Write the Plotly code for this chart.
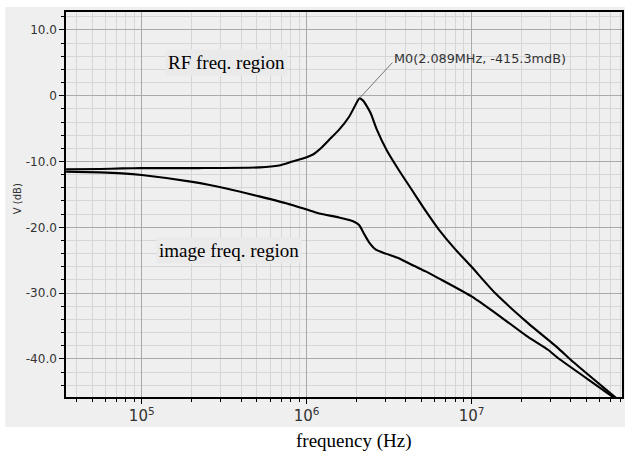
import math
import plotly.graph_objects as go

# ---- data ----
rf_freq = [3.48e4, 5.6e4, 7.6e4, 1.0e5, 2.2e5, 5.2e5, 6.8e5, 8.2e5, 1.0e6, 1.1e6,
           1.22e6, 1.37e6, 1.57e6, 1.81e6, 1.94e6, 2.02e6, 2.089e6, 2.2e6, 2.33e6,
           2.45e6, 2.67e6, 3.06e6, 3.62e6, 4.34e6, 5.27e6, 6.32e6, 8.0e6, 1.0e7,
           1.39e7, 2.21e7, 3.36e7, 4.02e7, 7.41e7, 7.9e7]
rf_db = [-11.2, -11.15, -11.05, -11.0, -11.0, -10.9, -10.6, -10.0, -9.35, -8.9,
         -8.0, -6.7, -5.2, -3.2, -1.8, -0.95, -0.415, -0.75, -1.7,
         -2.7, -5.2, -8.3, -11.3, -14.3, -17.5, -20.3, -23.4, -26.0,
         -30.0, -34.6, -38.4, -40.2, -45.8, -46.4]

img_freq = [3.48e4, 5.6e4, 7.6e4, 1.0e5, 2.03e5, 3.26e5, 5.16e5, 8.17e5, 1.0e6,
            1.19e6, 1.57e6, 1.81e6, 1.94e6, 2.08e6, 2.22e6, 2.38e6, 2.63e6, 3.02e6,
            3.62e6, 4.34e6, 5.27e6, 6.32e6, 1.0e7, 1.39e7, 2.21e7, 2.92e7, 3.36e7,
            7.21e7, 7.9e7]
img_db = [-11.55, -11.65, -11.8, -12.05, -13.1, -14.1, -15.3, -16.6, -17.3,
          -17.9, -18.5, -18.9, -19.15, -19.65, -20.9, -22.2, -23.4, -24.0,
          -24.7, -25.7, -26.7, -27.75, -30.5, -33.0, -36.7, -38.65, -39.9,
          -45.8, -46.6]

marker_freq = 2.089e6
marker_db = -0.4153

y_ticks = [10, 0, -10, -20, -30, -40]
y_ticklabels = ["10.0", "0", "-10.0", "-20.0", "-30.0", "-40.0"]

# ---- figure ----
W, H = 627, 458
ml, mr, mt, mb = 66, 3, 12, 61
pw, ph = W - ml - mr, H - mt - mb

def px_x(p):
    return (p - ml) / pw

def px_y(p):
    return (H - mb - p) / ph

fig = go.Figure()
line_style = dict(color="black", width=2.1, shape="spline", smoothing=0.6)
fig.add_trace(go.Scatter(x=rf_freq, y=rf_db, mode="lines", line=line_style,
                         name="RF", showlegend=False))
fig.add_trace(go.Scatter(x=img_freq, y=img_db, mode="lines", line=line_style,
                         name="image", showlegend=False))

tickfont = dict(family="DejaVu Sans", size=12, color="#333333")
serif = dict(family="Liberation Serif", size=19, color="black")

fig.update_layout(
    width=W, height=H,
    margin=dict(l=ml, r=mr, t=mt, b=mb, pad=0),
    paper_bgcolor="white",
    plot_bgcolor="#efefef",
    showlegend=False,
    xaxis=dict(
        type="log", range=[4.5408, 7.9124], dtick=1,
        exponentformat="power", showexponent="all",
        showgrid=True, gridcolor="#a9a9a9", gridwidth=1,
        ticks="outside", ticklen=5, tickcolor="black",
        showline=True, mirror=True, linecolor="black", linewidth=1.5,
        zeroline=False, tickfont=tickfont,
        minor=dict(dtick="D1", showgrid=True, gridcolor="#d6d6d6",
                   ticks="outside", ticklen=3, tickcolor="black"),
    ),
    yaxis=dict(
        range=[-45.79, 12.72], tickvals=y_ticks, ticktext=y_ticklabels,
        showgrid=True, gridcolor="#a9a9a9", gridwidth=1,
        ticks="outside", ticklen=5, tickcolor="black",
        showline=True, mirror=True, linecolor="black", linewidth=1.5,
        zeroline=False, tickfont=tickfont,
        minor=dict(dtick=2, showgrid=True, gridcolor="#d6d6d6",
                   ticks="outside", ticklen=3, tickcolor="black"),
    ),
    shapes=[dict(type="rect", xref="paper", yref="paper", layer="below",
                 x0=px_x(5), x1=px_x(627), y0=px_y(427), y1=px_y(7),
                 fillcolor="#efefef", line=dict(width=0))],
)

mx = math.log10(marker_freq)
fig.add_annotation(x=mx, y=marker_db, xref="x", yref="y", text=" ",
                   showarrow=True, arrowhead=0, arrowwidth=0.8,
                   arrowcolor="#555555", ax=35, ay=-38, standoff=0,
                   font=dict(size=2))
fig.add_annotation(x=mx, y=marker_db, xref="x", yref="y",
                   text=f"M0({marker_freq/1e6:.3f}MHz, {marker_db*1000:.1f}mdB)",
                   showarrow=False, xanchor="left", yanchor="middle",
                   xshift=33, yshift=40,
                   font=dict(family="DejaVu Sans", size=12.8, color="#333333"))

fig.add_annotation(x=px_x(227), y=px_y(62), xref="paper", yref="paper",
                   xanchor="center", yanchor="middle",
                   text="RF freq. region", showarrow=False, font=serif,
                   bgcolor="#eaeaea", borderpad=2)
fig.add_annotation(x=px_x(229.5), y=px_y(250), xref="paper", yref="paper",
                   xanchor="center", yanchor="middle",
                   text="image freq. region", showarrow=False, font=serif,
                   bgcolor="#eaeaea", borderpad=2)
fig.add_annotation(x=px_x(17), y=px_y(199), xref="paper", yref="paper",
                   xanchor="center", yanchor="middle",
                   text="V (dB)", showarrow=False, textangle=-90,
                   font=dict(family="DejaVu Sans", size=10, color="#333333"))
fig.add_annotation(x=px_x(355), y=px_y(441), xref="paper", yref="paper",
                   xanchor="center", yanchor="middle",
                   text="frequency (Hz)", showarrow=False, font=serif)

fig.write_html("out.html", config={"displayModeBar": False},
               post_script="document.body.style.margin='0';document.body.style.overflow='hidden';")
